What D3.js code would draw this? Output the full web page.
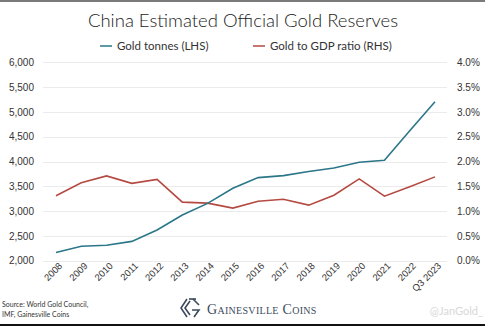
<!DOCTYPE html>
<meta charset="utf-8">
<style>
body { margin: 0; background: #fff; }
svg { display: block; font-family: Lato, "Open Sans", sans-serif; }
.axis text { font-size: 10px; fill: #333; }
.axis path, .axis line { display: none; }
.grid line { stroke: #ebebeb; stroke-width: 1; }
</style>
<body>
<script src="https://cdn.jsdelivr.net/npm/d3@7"></script>
<script>

var years = ["2008","2009","2010","2011","2012","2013","2014","2015",
             "2016","2017","2018","2019","2020","2021","2022","Q3 2023"];

// tonnes, left axis
var goldTonnes = [2165, 2290, 2310, 2390, 2620, 2920, 3155, 3460,
                  3675, 3715, 3800, 3870, 3985, 4025, 4620, 5205];

// percent of GDP, right axis
var goldToGdp = [1.31, 1.57, 1.71, 1.56, 1.64, 1.18, 1.16, 1.06,
                 1.20, 1.24, 1.12, 1.32, 1.65, 1.30, 1.49, 1.69];

var leftTicks = [2000, 2500, 3000, 3500, 4000, 4500, 5000, 5500, 6000];
var rightTicks = [0, 0.5, 1, 1.5, 2, 2.5, 3, 3.5, 4];

var blue = "#2b7689", red = "#b54a42";
var width = 485, height = 326;

var svg = d3.select("body").append("svg")
    .attr("width", width)
    .attr("height", height);

var x = d3.scalePoint().domain(years).range([56, 435]);
var yL = d3.scaleLinear().domain([2000, 6000]).range([260.7, 62.3]);
var yR = d3.scaleLinear().domain([0, 4]).range([260.7, 62.3]);

// frame bars top and bottom
svg.append("rect").attr("x", 0).attr("y", 0).attr("width", width).attr("height", 2).attr("fill", "#7a7a7a");
svg.append("rect").attr("x", 0).attr("y", 324).attr("width", width).attr("height", 2).attr("fill", "#111");

svg.append("text")
    .attr("x", 243).attr("y", 27)
    .attr("text-anchor", "middle")
    .style("font-size", "18.5px")
    .style("font-weight", 300)
    .style("fill", "#1a1a1a")
    .text("China Estimated Official Gold Reserves");

// legend
var legend = [["Gold tonnes (LHS)", blue, 100], ["Gold to GDP ratio (RHS)", red, 253]];
legend.forEach(function(l) {
  svg.append("line")
      .attr("x1", l[2]).attr("x2", l[2] + 12)
      .attr("y1", 46).attr("y2", 46)
      .attr("stroke", l[1]).attr("stroke-width", 1.5);
  svg.append("text")
      .attr("x", l[2] + 17).attr("y", 50)
      .style("font-size", "11.5px")
      .style("fill", "#333")
      .text(l[0]);
});

// gridlines
svg.append("g").attr("class", "grid")
  .selectAll("line")
    .data(leftTicks)
  .enter().append("line")
    .attr("x1", 43).attr("x2", 447)
    .attr("y1", function(d) { return Math.round(yL(d)) + 0.5; })
    .attr("y2", function(d) { return Math.round(yL(d)) + 0.5; });

svg.append("g")
    .attr("class", "axis")
    .attr("transform", "translate(37,0)")
    .call(d3.axisLeft(yL).tickValues(leftTicks).tickSize(0).tickFormat(d3.format(",")));

svg.append("g")
    .attr("class", "axis")
    .attr("transform", "translate(454,0)")
    .call(d3.axisRight(yR).tickValues(rightTicks).tickSize(0).tickFormat(function(d) { return d.toFixed(1) + "%"; }));

svg.append("g")
    .attr("class", "axis")
    .attr("transform", "translate(0,263)")
    .call(d3.axisBottom(x).tickSize(0))
  .selectAll("text")
    .attr("text-anchor", "end")
    .attr("dx", "2")
    .attr("dy", "4")
    .attr("transform", "rotate(-45)")
    .style("font-size", "9.5px");

var lineL = d3.line()
    .x(function(d, i) { return x(years[i]); })
    .y(function(d) { return yL(d); });
var lineR = d3.line()
    .x(function(d, i) { return x(years[i]); })
    .y(function(d) { return yR(d); });

svg.append("path")
    .datum(goldToGdp)
    .attr("d", lineR)
    .attr("fill", "none")
    .attr("stroke", red)
    .attr("stroke-width", 1.6);

svg.append("path")
    .datum(goldTonnes)
    .attr("d", lineL)
    .attr("fill", "none")
    .attr("stroke", blue)
    .attr("stroke-width", 1.6);

// footer
svg.append("text").attr("x", 2).attr("y", 307)
    .style("font-size", "7px").style("fill", "#333")
    .text("Source: World Gold Council,");
svg.append("text").attr("x", 2).attr("y", 317)
    .style("font-size", "7px").style("fill", "#333")
    .text("IMF, Gainesville Coins");

// logo mark: nested chevrons forming a G
var logo = svg.append("g")
    .attr("transform", "translate(190,308)")
    .attr("fill", "none")
    .attr("stroke", "#3c4a5c")
    .attr("stroke-width", 1.6);
logo.append("path").attr("d", "M-3,-9 L-9,0 L-3,9");
logo.append("path").attr("d", "M0,-7 L-5,0 L0,7");
logo.append("path").attr("d", "M3,-9 L9,-3");
logo.append("path").attr("d", "M2,2 L9,2 L4,9");
logo.append("path").attr("d", "M-1,-9 L6,-9");

svg.append("text")
    .attr("x", 207).attr("y", 314)
    .style("font-family", "'Liberation Serif', 'DejaVu Serif', serif")
    .style("font-size", "14px")
    .style("font-variant", "small-caps")
    .style("letter-spacing", "0.3px")
    .style("fill", "#3c4a5c")
    .text("Gainesville Coins");

svg.append("text")
    .attr("x", 483).attr("y", 315)
    .attr("text-anchor", "end")
    .style("font-size", "11px")
    .style("fill", "#d8d8d8")
    .text("@JanGold_");

</script>
</body>
